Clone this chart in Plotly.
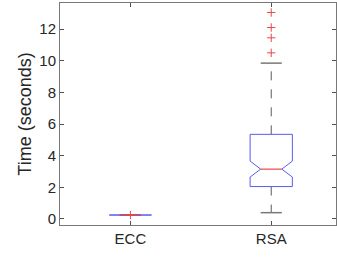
import plotly.graph_objects as go

categories = ["ECC", "RSA"]
q1 = [0.25, 2.05]
median = [0.25, 3.15]
q3 = [0.25, 5.35]
notch_lo = [0.25, 2.65]
notch_hi = [0.25, 3.66]
whisker_lo = [0.25, 0.40]
whisker_hi = [0.25, 9.85]
outliers_ecc = [0.25]
outliers_rsa = [10.5, 11.45, 12.1, 13.05]
outliers = [outliers_ecc, outliers_rsa]

BOX_HALF = 0.15
NOTCH_HALF = 0.075
BLUE = "rgb(90,90,240)"
RED = "rgb(235,70,70)"
GRAY = "rgb(90,90,90)"

fig = go.Figure()
for i, cat in enumerate(categories):
    c = i + 1
    # whiskers (dashed)
    fig.add_trace(go.Scatter(x=[c, c], y=[q3[i], whisker_hi[i]], mode="lines",
                             line=dict(color=GRAY, width=1, dash="dash"), hoverinfo="skip"))
    fig.add_trace(go.Scatter(x=[c, c], y=[q1[i], whisker_lo[i]], mode="lines",
                             line=dict(color=GRAY, width=1, dash="dash"), hoverinfo="skip"))
    # caps
    for wv in (whisker_lo[i], whisker_hi[i]):
        fig.add_trace(go.Scatter(x=[c - NOTCH_HALF, c + NOTCH_HALF], y=[wv, wv], mode="lines",
                                 line=dict(color="rgb(120,120,120)", width=1.5), hoverinfo="skip"))
    # notched box
    xs = [c - BOX_HALF, c + BOX_HALF, c + BOX_HALF, c + NOTCH_HALF, c + BOX_HALF, c + BOX_HALF,
          c - BOX_HALF, c - BOX_HALF, c - NOTCH_HALF, c - BOX_HALF, c - BOX_HALF]
    ys = [q3[i], q3[i], notch_hi[i], median[i], notch_lo[i], q1[i],
          q1[i], notch_lo[i], median[i], notch_hi[i], q3[i]]
    fig.add_trace(go.Scatter(x=xs, y=ys, mode="lines", line=dict(color=BLUE, width=1),
                             hoverinfo="skip"))
    # median
    fig.add_trace(go.Scatter(x=[c - NOTCH_HALF, c + NOTCH_HALF], y=[median[i], median[i]],
                             mode="lines", line=dict(color=RED, width=1.2), hoverinfo="skip"))
    # outliers
    fig.add_trace(go.Scatter(x=[c] * len(outliers[i]), y=outliers[i], mode="markers",
                             marker=dict(symbol="cross-thin", size=6,
                                         line=dict(width=1, color=RED)), hoverinfo="skip"))

axis_common = dict(showline=True, linecolor="rgb(120,120,120)", linewidth=1, mirror="ticks",
                   ticks="inside", ticklen=4, tickcolor="rgb(80,80,80)", showgrid=False,
                   zeroline=False, automargin=False,
                   tickfont=dict(size=15, color="#262626",
                                 family="Liberation Sans, Arial, sans-serif"))

fig.update_layout(
    width=337, height=257,
    margin=dict(l=60, r=1, t=3, b=32),
    paper_bgcolor="white", plot_bgcolor="white",
    showlegend=False,
    font=dict(family="Liberation Sans, Arial, sans-serif", color="#262626"),
)
fig.update_xaxes(range=[0.5, 2.46], tickvals=[1, 2], ticktext=categories, **axis_common)
fig.update_yaxes(range=[-0.38, 13.65], tickvals=[0, 2, 4, 6, 8, 10, 12],
                 title=dict(text="Time (seconds)", font=dict(size=18, color="#262626"), standoff=3),
                 **axis_common)

fig.write_html("out.html", config={"displayModeBar": False},
               post_script="document.body.style.margin='0';")
